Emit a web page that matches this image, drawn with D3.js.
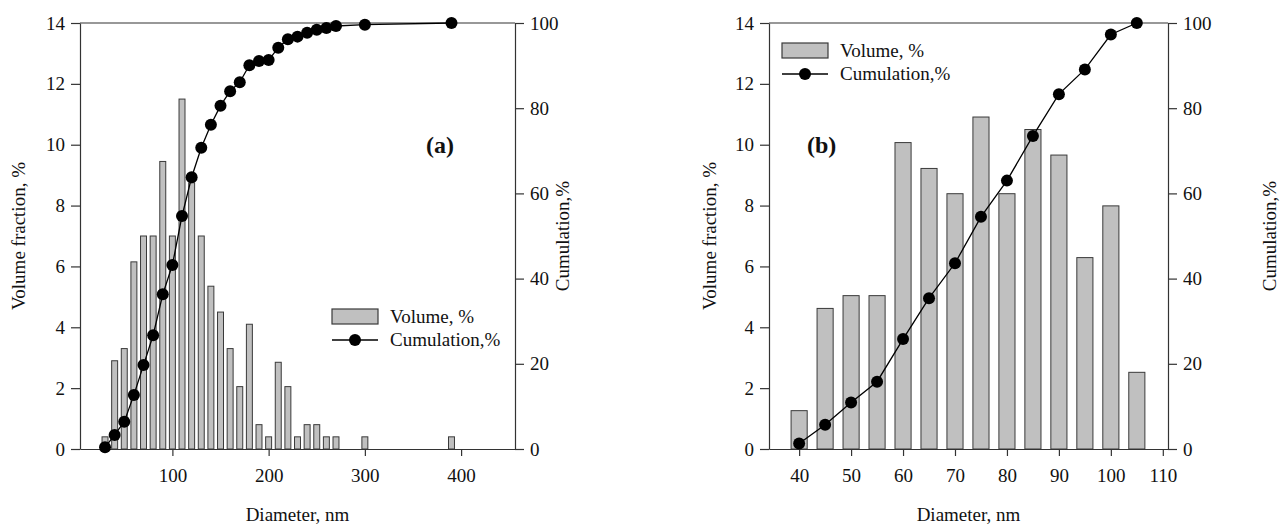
<!DOCTYPE html>
<html>
<head>
<meta charset="utf-8">
<script src="https://cdn.jsdelivr.net/npm/d3@7"></script>
<style>
  body { margin: 0; background: #fff; }
  svg { display: block; }
  text { font-family: "Liberation Serif", "Times New Roman", serif; fill: #111; }
</style>
</head>
<body>
<svg id="chart" width="1288" height="524"></svg>
<script>
// panel (a)
const diaA = [30, 40, 50, 60, 70, 80, 90, 100, 110, 120, 130, 140, 150, 160, 170, 180, 190, 200, 210, 220, 230, 240, 250, 260, 270, 300, 390];
const volA = [0.4, 2.9, 3.3, 6.15, 7.0, 7.0, 9.45, 7.0, 11.5, 8.75, 7.0, 5.35, 4.5, 3.3, 2.05, 4.1, 0.8, 0.4, 2.85, 2.05, 0.4, 0.8, 0.8, 0.4, 0.4, 0.4, 0.4];
const cumA = [0.4, 3.3, 6.4, 12.7, 19.7, 26.7, 36.3, 43.2, 54.7, 63.8, 70.7, 76.1, 80.6, 84.0, 86.1, 90.1, 91.1, 91.3, 94.2, 96.2, 96.8, 97.7, 98.4, 98.8, 99.3, 99.6, 100];
const xTicksA = [100, 200, 300, 400];

// panel (b)
const diaB = [40, 45, 50, 55, 60, 65, 70, 75, 80, 85, 90, 95, 100, 105];
const volB = [1.26, 4.62, 5.04, 5.04, 10.07, 9.22, 8.39, 10.91, 8.39, 10.5, 9.66, 6.29, 7.99, 2.52];
const cumB = [1.3, 5.7, 10.9, 15.8, 25.8, 35.4, 43.6, 54.5, 63.0, 73.5, 83.3, 89.1, 97.3, 100];
const xTicksB = [40, 50, 60, 70, 80, 90, 100, 110];

const volTicks = [0, 2, 4, 6, 8, 10, 12, 14];
const cumTicks = [0, 20, 40, 60, 80, 100];

const svg = d3.select("#chart");

function drawPanel(p) {
  var x = d3.scaleLinear().domain(p.xDomain).range([p.left, p.right]);
  var y = d3.scaleLinear().domain([0, 14]).range([p.bottom, p.top]);
  var y2 = d3.scaleLinear().domain([0, 100]).range([p.bottom, p.top]);
  var g = svg.append("g");

  // bars
  g.selectAll("rect.bar").data(p.dia.map((d, i) => ({ d: d, v: p.vol[i] })))
    .enter().append("rect")
    .attr("x", d => x(d.d - p.halfW))
    .attr("width", d => x(d.d + p.halfW) - x(d.d - p.halfW))
    .attr("y", d => y(d.v))
    .attr("height", d => y(0) - y(d.v))
    .attr("fill", "#c0c0c0")
    .attr("stroke", "#3a3a3a")
    .attr("stroke-width", 1);

  // axes
  function styleAxis(sel) {
    sel.selectAll("path, line").attr("stroke", "#333").attr("stroke-width", 1.2);
    sel.selectAll("text").style("font-size", "19px").style("font-family", "'Liberation Serif', serif").attr("fill", "#111");
  }
  g.append("g").attr("transform", "translate(0," + p.bottom + ")")
    .call(d3.axisBottom(x).tickValues(p.xTicks).tickSize(7).tickSizeOuter(0).tickPadding(13))
    .call(styleAxis);
  g.append("g").attr("transform", "translate(" + p.left + ",0)")
    .call(d3.axisLeft(y).tickValues(volTicks).tickSize(9).tickSizeOuter(0).tickPadding(6))
    .call(styleAxis);
  g.append("g").attr("transform", "translate(" + p.right + ",0)")
    .call(d3.axisRight(y2).tickValues(cumTicks).tickSize(9).tickSizeOuter(0).tickPadding(6))
    .call(styleAxis);
  g.append("line")
    .attr("x1", p.left).attr("x2", p.right).attr("y1", p.top).attr("y2", p.top)
    .attr("stroke", "#333").attr("stroke-width", 1.2);

  // cumulation curve
  var pts = p.dia.map((d, i) => [x(d), y2(p.cum[i])]);
  g.append("path").attr("d", d3.line()(pts))
    .attr("fill", "none").attr("stroke", "#000").attr("stroke-width", 1.3);
  g.selectAll("circle.pt").data(pts).enter().append("circle")
    .attr("cx", d => d[0]).attr("cy", d => d[1]).attr("r", 6).attr("fill", "#000");

  // axis titles
  g.append("text").attr("x", (p.left + p.right) / 2).attr("y", 521)
    .attr("text-anchor", "middle").style("font-size", "19px").text("Diameter, nm");
  g.append("text").attr("transform", "translate(" + p.yTitleX + "," + 236 + ") rotate(-90)")
    .attr("text-anchor", "middle").attr("dy", "0.35em").style("font-size", "19px").text("Volume fraction, %");
  g.append("text").attr("transform", "translate(" + p.y2TitleX + "," + 236 + ") rotate(-90)")
    .attr("text-anchor", "middle").attr("dy", "0.35em").style("font-size", "19px").text("Cumulation,%");

  // panel letter
  g.append("text").attr("x", p.letterX).attr("y", 153)
    .style("font-size", "24px").style("font-weight", "bold").text(p.letter);

  // legend
  var lg = g.append("g").attr("transform", "translate(" + p.legX + "," + p.legY + ")");
  lg.append("rect").attr("x", 0).attr("y", 0).attr("width", 46).attr("height", 15)
    .attr("fill", "#c0c0c0").attr("stroke", "#3a3a3a").attr("stroke-width", 1.2);
  lg.append("text").attr("x", 58).attr("y", 14).style("font-size", "19px").text("Volume, %");
  lg.append("line").attr("x1", 0).attr("x2", 46).attr("y1", 31).attr("y2", 31)
    .attr("stroke", "#000").attr("stroke-width", 1.3);
  lg.append("circle").attr("cx", 23).attr("cy", 31).attr("r", 6).attr("fill", "#000");
  lg.append("text").attr("x", 58).attr("y", 37).style("font-size", "19px").text("Cumulation,%");
}

drawPanel({
  dia: diaA, vol: volA, cum: cumA, xTicks: xTicksA, xDomain: [4, 456],
  left: 80, right: 515, top: 23, bottom: 449, halfW: 3.1,
  yTitleX: 18, y2TitleX: 562,
  letter: "(a)", letterX: 426, legX: 332, legY: 309
});
drawPanel({
  dia: diaB, vol: volB, cum: cumB, xTicks: xTicksB, xDomain: [34.2, 111],
  left: 769, right: 1168, top: 23, bottom: 449, halfW: 1.55,
  yTitleX: 709, y2TitleX: 1269,
  letter: "(b)", letterX: 807, legX: 782, legY: 43
});
</script>
</body>
</html>
